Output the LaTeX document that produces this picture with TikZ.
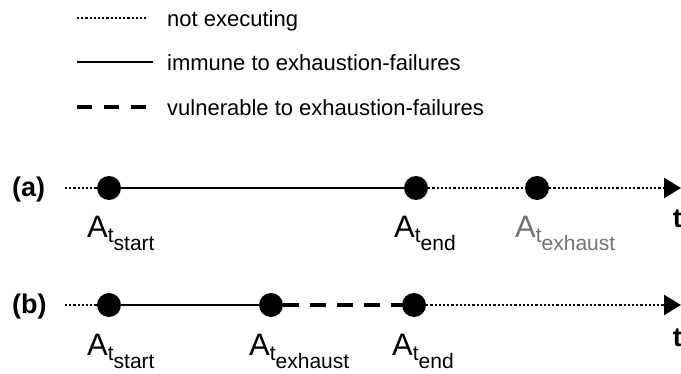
\documentclass[tikz,border=0pt]{standalone}
\usepackage{fontspec}
\setmainfont{Liberation Sans}
\usetikzlibrary{arrows.meta}

% sizes are given in pt, one unit per pixel of the layout
\newcommand{\evlabel}[2]{{\fontsize{31}{31}\selectfont A}\raisebox{-5pt}{\fontsize{21}{21}\selectfont t\raisebox{-8pt}{#2}}}

\begin{document}
\begin{tikzpicture}[x=1pt,y=-1pt,
    idle/.style={line width=2.4pt, dash pattern=on 2.2pt off 2pt},
    immune/.style={line width=2.6pt},
    vuln/.style={line width=3.6pt, dash pattern=on 16pt off 11pt},
    timeaxis/.style={idle, -{Triangle[length=17pt,width=20pt]}},
    event/.style={circle, fill=black, inner sep=0pt, minimum size=24pt},
    evtext/.style={anchor=base west, inner sep=0pt},
    legtext/.style={anchor=base west, inner sep=0pt, font=\fontsize{22}{23}\selectfont},
    rowtag/.style={anchor=base west, inner sep=0pt, font=\fontsize{27}{27}\selectfont\bfseries},
    axisname/.style={anchor=base east, inner sep=0pt, font=\fontsize{27}{27}\selectfont\bfseries}]

  \path[use as bounding box] (0,0) rectangle (681,374);

  % ---- legend ----
  \coordinate (l1a) at (77,18);  \coordinate (l1b) at (147,18);
  \coordinate (l2a) at (77,62);  \coordinate (l2b) at (153,62);
  \coordinate (l3a) at (77,107); \coordinate (l3b) at (150,107);
  \draw[idle]   (l1a) -- (l1b);
  \draw[immune] (l2a) -- (l2b);
  \draw[line width=3.6pt, dash pattern=on 15pt off 12pt] (l3a) -- (l3b);
  \node[legtext] (lt1) at (167,27)  {not executing};
  \node[legtext] (lt2) at (167,71)  {immune to exhaustion-failures};
  \node[legtext] (lt3) at (167,116) {vulnerable to exhaustion-failures};

  % ---- timeline (a) ----
  \node[rowtag] (taga) at (12,197) {(a)};
  \coordinate (a0) at (65,188);
  \coordinate (aend) at (681,188);
  \node[event] (as) at (109,188) {};
  \node[event] (ae) at (416,188) {};
  \node[event] (ax) at (537,188) {};
  \draw[idle]     (a0) -- (as);
  \draw[immune]   (as) -- (ae);
  \draw[idle]     (ae) -- (ax);
  \draw[timeaxis] (ax) -- (aend);
  \node[evtext] (las) at (87,238)  {\evlabel{A}{start}};
  \node[evtext] (lae) at (394,238) {\evlabel{A}{end}};
  \node[evtext, text=black!55] (lax) at (515,238) {\evlabel{A}{exhaust}};
  \node[axisname] (ta) at (682,228) {t};

  % ---- timeline (b) ----
  \node[rowtag] (tagb) at (12,314) {(b)};
  \coordinate (b0) at (65,305);
  \coordinate (bend) at (681,305);
  \node[event] (bs) at (109,305) {};
  \node[event] (bx) at (271,305) {};
  \node[event] (be) at (414,305) {};
  \draw[idle]     (b0) -- (bs);
  \draw[immune]   (bs) -- (bx);
  \draw[vuln]     (bx) -- (be);
  \draw[timeaxis] (be) -- (bend);
  \node[evtext] (lbs) at (87,356)  {\evlabel{A}{start}};
  \node[evtext] (lbx) at (249,356) {\evlabel{A}{exhaust}};
  \node[evtext] (lbe) at (392,356) {\evlabel{A}{end}};
  \node[axisname] (tb) at (682,347) {t};
\end{tikzpicture}
\end{document}
